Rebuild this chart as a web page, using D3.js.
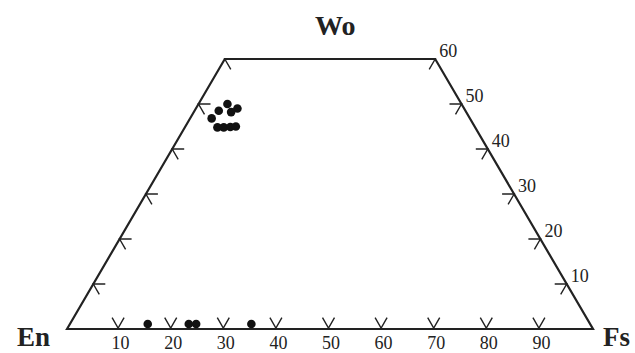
<!DOCTYPE html>
<html>
<head>
<meta charset="utf-8">
<script src="https://cdn.jsdelivr.net/npm/d3@7/dist/d3.min.js"></script>
<style>
  html, body { margin: 0; padding: 0; background: #fff; }
  svg { display: block; }
  text { font-family: "Liberation Serif", "Times New Roman", serif; fill: #222; }
</style>
</head>
<body>
<svg id="chart" width="635" height="353"></svg>
<script>
// ---- data ----
const fsTicks = [10, 20, 30, 40, 50, 60, 70, 80, 90];   // bottom edge (Fs %)
const woTicks = [10, 20, 30, 40, 50, 60];                // side edges (Wo %)
const woMax = 60;
// clinopyroxene cluster (Wo, Fs)
const cpxWo = [50.0, 49.0, 48.5, 48.2, 46.8, 44.8, 44.8, 44.9, 45.0];
const cpxFs = [5.5, 7.9, 4.6, 7.1, 4.1, 6.2, 7.4, 8.6, 9.6];
// orthopyroxene points near the En–Fs join (Wo, Fs)
const opxWo = [1.1, 1.1, 1.1, 1.1];
const opxFs = [14.8, 22.6, 24.0, 34.5];

// ---- scales ----
const svg = d3.select("#chart");
const xs = d3.scaleLinear().domain([0, 100]).range([67, 593]);   // position along En–Fs
const ys = d3.scaleLinear().domain([0, 100]).range([329, -121]); // Wo height
// ternary projection: (Wo, Fs) -> screen
const px = (wo, fs) => xs(fs + wo / 2);
const py = (wo) => ys(wo);

const ink = "#222";

// ---- frame ----
const corners = [
  [0, 0],               // En
  [woMax, 0],           // top-left
  [woMax, 100 - woMax], // top-right
  [0, 100]              // Fs
];
svg.append("path")
  .attr("d", d3.line()(corners.map(c => [px(c[0], c[1]), py(c[0])])) + "Z")
  .attr("fill", "none").attr("stroke", ink).attr("stroke-width", 2.2)
  .attr("stroke-linejoin", "miter");

const L = 12;
const s3 = Math.sqrt(3) / 2;
function chevron(x, y, a1, a2) {
  return `M${x + a1[0] * L},${y + a1[1] * L}L${x},${y}L${x + a2[0] * L},${y + a2[1] * L}`;
}
const tickG = svg.append("g").attr("fill", "none").attr("stroke", ink).attr("stroke-width", 1.4);

// bottom ticks: V shapes
fsTicks.forEach(f => {
  const x = px(0, f) - 1.5, y = py(0) - 1;
  tickG.append("path").attr("d", chevron(x, y, [-0.5, -s3], [0.5, -s3]));
});
// left edge ticks (Fs = 0)
woTicks.forEach(w => {
  const x = px(w, 0), y = py(w);
  tickG.append("path").attr("d", chevron(x, y, [1, 0], [0.5, s3]));
});
// right edge ticks (En = 0)
woTicks.forEach(w => {
  const x = px(w, 100 - w), y = py(w);
  tickG.append("path").attr("d", chevron(x, y, [-1, 0], [-0.5, s3]));
});

// ---- tick labels ----
svg.append("g").selectAll("text").data(fsTicks).join("text")
  .attr("x", d => px(0, d) + 1)
  .attr("y", 349)
  .attr("text-anchor", "middle")
  .attr("font-size", 18)
  .text(d => d);

svg.append("g").selectAll("text").data(woTicks).join("text")
  .attr("x", d => px(d, 100 - d) + 4)
  .attr("y", d => py(d) - 2)
  .attr("font-size", 18)
  .text(d => d);

// ---- apex labels ----
const apex = [
  { t: "Wo", x: 315, y: 35, s: 28 },
  { t: "En", x: 17, y: 346, s: 27 },
  { t: "Fs", x: 603, y: 346, s: 27 }
];
svg.append("g").selectAll("text").data(apex).join("text")
  .attr("x", d => d.x).attr("y", d => d.y)
  .attr("font-size", d => d.s).attr("font-weight", "bold")
  .text(d => d.t);

// ---- points ----
const pts = cpxWo.map((w, i) => [w, cpxFs[i]]).concat(opxWo.map((w, i) => [w, opxFs[i]]));
svg.append("g").selectAll("circle").data(pts).join("circle")
  .attr("cx", d => px(d[0], d[1]))
  .attr("cy", d => py(d[0]))
  .attr("r", 4.3)
  .attr("fill", "#111");
</script>
</body>
</html>
